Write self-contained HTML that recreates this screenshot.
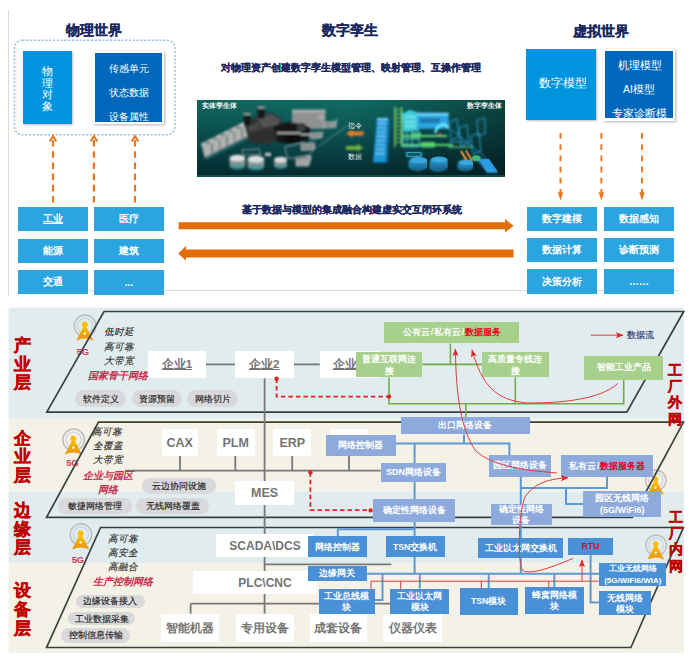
<!DOCTYPE html>
<html><head><meta charset="utf-8">
<style>
html,body{margin:0;padding:0;background:#fff;}
body{width:693px;height:661px;position:relative;overflow:hidden;font-family:"Liberation Sans",sans-serif;}
.a{position:absolute;box-sizing:border-box;}
.t{position:absolute;white-space:nowrap;line-height:1;}
.ttl{font-size:14.2px;font-weight:bold;color:#1a2860;-webkit-text-stroke:0.25px #1a2860;}
.sub{font-size:10.1px;font-weight:bold;color:#1a2860;-webkit-text-stroke:0.2px #1a2860;}
.cb{position:absolute;background:#2aa5e0;color:#fff;font-weight:bold;font-size:10px;display:flex;align-items:center;justify-content:center;line-height:1;}
.wb{position:absolute;box-sizing:border-box;background:#fff;color:#747474;font-weight:bold;font-size:11.5px;display:flex;align-items:center;justify-content:center;line-height:1;white-space:nowrap;}
.pl{position:absolute;box-sizing:border-box;background:#d9d9db;color:#222;-webkit-text-stroke:0.15px #222;padding-top:1px;font-size:9px;border-radius:9px;display:flex;align-items:center;justify-content:center;line-height:1;white-space:nowrap;}
.lay{position:absolute;color:#c00000;font-weight:900;-webkit-text-stroke:0.5px #c00000;font-size:17px;line-height:18.5px;}
.lay2{position:absolute;color:#c00000;font-weight:900;-webkit-text-stroke:0.4px #c00000;font-size:14px;line-height:16.4px;}
.it{position:absolute;font-style:italic;color:#1e1e1e;-webkit-text-stroke:0.1px #1e1e1e;font-size:9.6px;line-height:11px;white-space:nowrap;}
.red{color:#c9304e;-webkit-text-stroke:0;font-weight:bold;font-size:10px;}
.gb{position:absolute;box-sizing:border-box;background:#a6d08b;color:#fff;font-weight:bold;font-size:8.8px;display:flex;align-items:center;justify-content:center;line-height:1;white-space:nowrap;}
.pb{position:absolute;box-sizing:border-box;background:#8eaadc;color:#fff;font-size:9px;font-weight:bold;display:flex;align-items:center;justify-content:center;line-height:1;white-space:nowrap;}
.bb{position:absolute;box-sizing:border-box;background:#4a90d6;color:#fff;font-size:8.6px;font-weight:bold;display:flex;align-items:center;justify-content:center;line-height:1;white-space:nowrap;}
.sl{margin:0 0.8px;}
svg{position:absolute;left:0;top:0;}
</style></head><body>

<!-- ===== UPPER SECTION ===== -->
<div class="a" style="left:8px;top:10px;width:1px;height:286px;background:#dcdcdc"></div>
<div class="a" style="left:88px;top:290px;width:590px;height:1px;background:#dcdcdc"></div>

<div class="t ttl" style="left:66px;top:23px;">物理世界</div>
<div class="t ttl" style="left:322px;top:22.5px;">数字孪生</div>
<div class="t ttl" style="left:573px;top:23.5px;">虚拟世界</div>

<div class="t sub" style="left:221px;top:62.5px;">对物理资产创建数字孪生模型管理、映射管理、互操作管理</div>
<div class="t sub" style="left:242px;top:205.3px;">基于数据与模型的集成融合构建虚实交互闭环系统</div>

<!-- dashed rounded rect -->
<svg class="a" style="left:0;top:0" width="200" height="150"><rect x="14.5" y="40.3" width="160.5" height="94.5" rx="8" fill="none" stroke="#a0c0e4" stroke-width="1.5" stroke-dasharray="2.2 1.6"/></svg>

<!-- 物理对象 -->
<div class="a" style="left:23px;top:51px;width:49px;height:73px;background:#0094de;box-shadow:1px 1px 2px rgba(0,0,0,0.25);"></div>
<div class="t" style="left:42px;top:66px;font-size:11px;color:#fff;line-height:11.6px;width:12px;white-space:normal;">物理对象</div>

<!-- dark box -->
<div class="a" style="left:93px;top:51px;width:71px;height:73px;background:#fff;box-shadow:1px 1px 2.5px rgba(0,0,0,0.3);"></div>
<div class="a" style="left:95px;top:53px;width:67px;height:69px;background:#0068bc;overflow:hidden;">
  <div class="t" style="left:13.5px;top:10.5px;font-size:10.2px;color:#fff;">传感单元</div>
  <div class="t" style="left:13.5px;top:34.5px;font-size:10.2px;color:#fff;">状态数据</div>
  <div class="t" style="left:13.5px;top:58.5px;font-size:10.2px;color:#fff;">设备属性</div>
</div>

<!-- 数字模型 -->
<div class="a" style="left:526px;top:49px;width:70px;height:71px;background:#0094de;box-shadow:1px 1px 2px rgba(0,0,0,0.25);"></div>
<div class="t" style="left:539px;top:78px;font-size:11.5px;color:#fff;">数字模型</div>

<div class="a" style="left:603px;top:49px;width:72px;height:72px;background:#fff;box-shadow:1px 1px 2.5px rgba(0,0,0,0.3);"></div>
<div class="a" style="left:605px;top:51px;width:68px;height:67px;background:#0068bc;overflow:hidden;">
  <div class="t" style="left:13px;top:9px;font-size:10.5px;color:#fff;">机理模型</div>
  <div class="t" style="left:18px;top:33px;font-size:10.5px;color:#fff;">AI模型</div>
  <div class="t" style="left:7px;top:57px;font-size:10.5px;color:#fff;">专家诊断模</div>
</div>

<!-- left grid -->
<div class="cb" style="left:18px;top:207px;width:70px;height:24px;"><u>工业</u></div>
<div class="cb" style="left:94px;top:207px;width:70px;height:24px;">医疗</div>
<div class="cb" style="left:18px;top:239px;width:70px;height:24px;">能源</div>
<div class="cb" style="left:94px;top:239px;width:70px;height:24px;">建筑</div>
<div class="cb" style="left:18px;top:270px;width:70px;height:24px;">交通</div>
<div class="cb" style="left:94px;top:270px;width:70px;height:25px;">...</div>

<!-- right grid -->
<div class="cb" style="left:527px;top:207px;width:70px;height:24px;">数字建模</div>
<div class="cb" style="left:604px;top:207px;width:70px;height:24px;">数据感知</div>
<div class="cb" style="left:527px;top:238px;width:70px;height:24px;">数据计算</div>
<div class="cb" style="left:604px;top:238px;width:70px;height:24px;">诊断预测</div>
<div class="cb" style="left:527px;top:269px;width:70px;height:25px;">决策分析</div>
<div class="cb" style="left:604px;top:269px;width:70px;height:25px;">……</div>

<svg width="693" height="300" viewBox="0 0 693 300">
  <g stroke="#e87722" stroke-width="2.2" stroke-dasharray="6.6 4.6" fill="none">
    <line x1="53" y1="202.6" x2="53" y2="136"/>
    <line x1="93.9" y1="202.6" x2="93.9" y2="136"/>
    <line x1="135" y1="202.6" x2="135" y2="136"/>
  </g>
  <g stroke="#e87722" stroke-width="2" fill="none" stroke-linejoin="miter">
    <path d="M49.7 141.5 L53 136.2 L56.4 141.5"/>
    <path d="M90.6 141.5 L93.9 136.2 L97.3 141.5"/>
    <path d="M131.7 141.5 L135 136.2 L138.4 141.5"/>
  </g>
  <g stroke="#e87722" stroke-width="1.9" stroke-dasharray="5.8 5.4" fill="none">
    <line x1="560.5" y1="133" x2="560.5" y2="194"/>
    <line x1="601.4" y1="133" x2="601.4" y2="194"/>
    <line x1="642" y1="133" x2="642" y2="194"/>
  </g>
  <g fill="#e87722">
    <path d="M557.8 192.3 L560.5 200.5 L563.2 192.3Z"/>
    <path d="M598.7 192.3 L601.4 200.5 L604.1 192.3Z"/>
    <path d="M639.3 192.3 L642 200.5 L644.7 192.3Z"/>
  </g>
  <g fill="#e36c09">
    <path d="M178.6 222.3 H505 V219 L513.5 225.8 L505 232.6 V229.2 H178.6Z"/>
    <path d="M178.2 253.4 L186 246 V249.5 H513.5 V257.4 H186 V260.8Z"/>
  </g>
</svg>

<!-- twin image -->
<svg class="a" style="left:197px;top:100px;" width="308" height="77" viewBox="0 0 308 77">
  <defs>
    <linearGradient id="tgv" x1="0" y1="0" x2="0" y2="1">
      <stop offset="0" stop-color="#106c62"/>
      <stop offset="0.35" stop-color="#0c5654"/>
      <stop offset="0.75" stop-color="#083c40"/>
      <stop offset="1" stop-color="#062a2e"/>
    </linearGradient>
    <linearGradient id="tgh" x1="0" y1="0" x2="1" y2="0">
      <stop offset="0" stop-color="#000" stop-opacity="0.05"/>
      <stop offset="0.5" stop-color="#000" stop-opacity="0"/>
      <stop offset="1" stop-color="#000" stop-opacity="0.35"/>
    </linearGradient>
    <linearGradient id="tk" x1="0" y1="0" x2="0" y2="1"><stop offset="0" stop-color="#a9acac"/><stop offset="0.5" stop-color="#7f9696"/><stop offset="1" stop-color="#1d8a88"/></linearGradient>
    <linearGradient id="ctk" x1="0" y1="0" x2="0" y2="1"><stop offset="0" stop-color="#2a9ad0"/><stop offset="1" stop-color="#16608e"/></linearGradient>
    <pattern id="mesh" width="2" height="2" patternUnits="userSpaceOnUse"><rect width="2" height="2" fill="#1c1e1e"/><rect width="1" height="1" fill="#505353"/></pattern>
    <filter id="bl" filterUnits="userSpaceOnUse" x="0" y="0" width="308" height="77"><feGaussianBlur stdDeviation="0.8"/></filter>
  </defs>
  <rect width="308" height="77" fill="url(#tgv)"/>
  <rect width="308" height="77" fill="url(#tgh)"/>
  <rect y="75" width="308" height="2" fill="#1a6a6a" opacity="0.6"/>
  <g filter="url(#bl)">
    <!-- cooling bar -->
    <path d="M5 46 L48 24.5 L51 36 L7.5 57.5 Z" fill="#b0b2b2"/>
    <path d="M3.5 44 L46 22.5 L48 24.5 L5 46 Z" fill="#cfd1d1"/>
    <g fill="#8a8d8d"><ellipse cx="11" cy="42.4" rx="3.4" ry="1.7"/><ellipse cx="18.5" cy="38.6" rx="3.4" ry="1.7"/><ellipse cx="26" cy="34.8" rx="3.4" ry="1.7"/><ellipse cx="33.5" cy="31" rx="3.4" ry="1.7"/><ellipse cx="41" cy="27.2" rx="3.4" ry="1.7"/></g>
    <g stroke="#3a3c3c" stroke-width="0.9"><path d="M15 44 V53 M22.5 40.2 V49.3 M30 36.4 V45.5 M37.5 32.6 V41.7 M45 28.8 V38"/></g>
    <path d="M7.5 57.5 L51 36 L52 38.5 L9 60 Z" fill="#2a7070" opacity="0.8"/>
    <!-- dark machine -->
    <path d="M47 24 L60 16 L74 12 L84 18 L88 30 L84 40 L66 45 L52 42 Z" fill="url(#mesh)"/>
    <path d="M60 18 L74 14 L84 20 L80 26 L66 28 Z" fill="#6a6d6d" opacity="0.6"/>
    <path d="M50 26 L62 22 L64 30 L52 32 Z" fill="#5d6060" opacity="0.5"/>
    <rect x="46.5" y="12" width="7" height="14" rx="2" fill="#151717"/><ellipse cx="50" cy="14" rx="4" ry="1.4" fill="#8a9a9a"/>
    <rect x="60.8" y="5.5" width="7" height="13" rx="2" fill="#151717"/><ellipse cx="64.3" cy="7.5" rx="4" ry="1.4" fill="#8a9a9a"/>
    <!-- gray box -->
    <rect x="95" y="9.8" width="33.5" height="19" fill="#909292"/>
    <rect x="95" y="9.8" width="33.5" height="2.5" fill="#b2b4b4"/>
    <circle cx="124.5" cy="17.3" r="2.2" fill="none" stroke="#e0e0e0" stroke-width="0.7"/>
    <!-- black machinery -->
    <path d="M76 26 L92 22 L106 24 L114 28 L112 40 L96 44 L80 42 Z" fill="#121414"/>
    <rect x="100" y="23" width="8" height="8" fill="#3a3c3c"/>
    <path d="M80 33 L104 33 M104 34.6 L120 34.6" stroke="#c8cccc" stroke-width="1.3"/>
    <path d="M87 36 L103 36 L103 43 L87 43Z" fill="#0d0f0f"/>
    <!-- platforms -->
    <path d="M88 47 L106 43 L119 47 L110 58 L90 58 Z" fill="none" stroke="#a8b8b8" stroke-width="0.8"/>
    <path d="M98.5 57 L112 54.5 L115 57 L112 66.6 L98.5 66.6 Z" fill="#a0a4a4"/>
    <path d="M100 58 L110 57" stroke="#333" stroke-width="1"/>
    <path d="M127.4 22 L140 21 L139 27.7 L127.4 28 Z M113 33 L126 32 L125 38 L113 38.5Z M104 44 L118 43 L117 50 L104 50.5Z" fill="#8a8f8f" stroke="#c4c8c8" stroke-width="0.5"/>
    <path d="M110 45 L123 36 M134 26 L141 18 M122 46 L150 26" stroke="#8fd0d0" stroke-width="0.6"/>
    <rect x="68" y="52.7" width="6" height="3.5" fill="#b8bcbc"/>
    <!-- tanks -->
    <path d="M32.6 57.9 V67 Q40.4 72.5 48.2 67 V57.9 Z" fill="url(#tk)"/><ellipse cx="40.4" cy="57.9" rx="7.8" ry="3.2" fill="#e0e2e2"/>
    <path d="M50.6 59.1 V68 Q58.9 73 67.2 68 V59.1 Z" fill="url(#tk)"/><ellipse cx="58.9" cy="59.1" rx="8.3" ry="3.4" fill="#dcdede"/>
    <path d="M77.1 59.7 V67 Q83.5 71 89.9 67 V59.7 Z" fill="url(#tk)"/><ellipse cx="83.5" cy="59.7" rx="6.4" ry="3" fill="#d8dada"/>
    <path d="M45 50 L62 49 L64 54.5 L46 55 Z" fill="none" stroke="#b8c8c8" stroke-width="0.7"/>
    <!-- middle arrows -->
    <path d="M149 33.4 L155.5 29.5 V31.4 H166.5 V35.4 H155.5 V37.4 Z" fill="#f07c2a"/>
    <path d="M166.5 47.8 L160 44 V45.9 H149 V49.7 H160 V51.6 Z" fill="#74b23e"/>
    <!-- blue column -->
    <path d="M180 18 L191 18 L188.5 62.5 L176 62.5 Z" fill="#1b98d6"/>
    <path d="M191 18 L193 20 L190.5 63 L188.5 62.5 Z" fill="#1270a8"/>
    <path d="M180 18 L191 18 L190.6 20.5 L179.8 20.5Z" fill="#6ad0f8"/>
    <g stroke="#9ae0ff" stroke-width="0.9"><path d="M180.5 23.5 H189.5 M180.2 27.8 H189.2 M179.9 32.1 H189 M179.6 36.4 H188.8 M179.3 40.7 H188.5 M179 45 H188.3 M178.7 49.3 H188 M178.4 53.6 H187.8"/></g>
    <!-- green ladder -->
    <path d="M198 7 V47 M204.6 7 V47" stroke="#96ea6a" stroke-width="1.2"/>
    <g stroke="#96ea6a" stroke-width="0.9"><path d="M198 10 H204.6 M198 14 H204.6 M198 18 H204.6 M198 22 H204.6 M198 26 H204.6 M198 30 H204.6 M198 34 H204.6 M198 38 H204.6 M198 42 H204.6"/></g>
    <!-- cyan structure -->
    <path d="M205 14 L212 10 L220 12 L222 30 L206 31 Z" fill="#48e4f4" opacity="0.85"/>
    <path d="M208 17 H219 M208 22 H219 M208 26 H219" stroke="#c8ffff" stroke-width="0.8"/>
    <path d="M206 31 H222 V47 H206 Z M210 31 V47 M215 31 V47 M206 39 H222" fill="none" stroke="#5ae0f4" stroke-width="0.9"/>
    <rect x="220" y="12.8" width="31.6" height="16" fill="#2aa6e2"/>
    <rect x="220" y="12.8" width="31.6" height="2.8" fill="#6ad0f8"/>
    <rect x="223" y="18" width="20" height="5" fill="#1a78b0"/>
    <path d="M204 36 L250 36 M204 45 L256 45" stroke="#62d878" stroke-width="2"/>
    <rect x="214" y="33" width="10" height="5" fill="#58d070"/>
    <rect x="224" y="42" width="14" height="5.5" fill="#58d070"/>
    <path d="M238.4 33 C 240 24, 249 22, 251 28" stroke="#70f4ff" stroke-width="2.4" fill="none"/>
    <circle cx="243" cy="35" r="1.6" fill="#f08060"/>
    <path d="M251 47 H276" stroke="#68d888" stroke-width="1.2"/>
    <g fill="none" stroke="#2f9ed6" stroke-width="1">
      <path d="M252 22 L260 19 L262 37 L254 40 Z"/><path d="M262 28 L270 25 L272 43 L264 46 Z"/><path d="M274 36 L282 33 L284 51 L276 54 Z"/><path d="M280 20 L288 18 L288 34 L281 36 Z"/>
      <path d="M255 30 L287 56"/><path d="M252 42 H270"/>
    </g>
    <path d="M264 51 L270 61 M269 50.5 L275 61" stroke="#d88a3a" stroke-width="1.5"/>
    <ellipse cx="279.3" cy="58.2" rx="4" ry="2.6" fill="#42b878"/>
    <path d="M280 59 L290 58.7 L301 72.8 L290 72.8 Z" fill="#2a9ee0"/>
    <rect x="209.8" y="52.7" width="14.4" height="3.5" fill="none" stroke="#3ab8e0" stroke-width="0.8"/>
    <path d="M212.4 61 V67.5 Q220.2 72.5 228 67.5 V61 Z" fill="#1876a8" stroke="#40b8ec" stroke-width="0.8"/><ellipse cx="220.2" cy="61" rx="7.8" ry="3" fill="#1e8ac0" stroke="#58c8f4" stroke-width="0.8"/>
    <path d="M233.4 62 V68.5 Q241.2 73 249 68.5 V62 Z" fill="#1876a8" stroke="#40b8ec" stroke-width="0.8"/><ellipse cx="241.2" cy="62" rx="7.8" ry="3" fill="#1e8ac0" stroke="#58c8f4" stroke-width="0.8"/>
    <path d="M261.5 63 V68.5 Q267.9 72 274.3 68.5 V63 Z" fill="#1876a8" stroke="#40b8ec" stroke-width="0.8"/><ellipse cx="267.9" cy="63" rx="6.4" ry="2.6" fill="#1e8ac0" stroke="#58c8f4" stroke-width="0.8"/>
  </g>
    <path d="M264 51 L270 61 M269 50.5 L275 61" stroke="#d88a3a" stroke-width="1.5"/>
    <ellipse cx="279.3" cy="58.2" rx="4" ry="2.6" fill="#42b878"/>
    <path d="M283.4 59.7 L292 59 L300.7 71.8 L290 71.8 Z" fill="#2a9ee0"/>
    <rect x="209.8" y="52.7" width="14.4" height="3.5" fill="none" stroke="#3ab8e0" stroke-width="0.8"/>
    <path d="M213.8 60.2 V68 Q221.9 72.5 230 68 V60.2 Z" fill="url(#ctk)"/><ellipse cx="221.9" cy="60.2" rx="8.1" ry="3" fill="#3aa8e0"/>
    <path d="M233.8 59.5 V68 Q242.1 72.5 250.5 68 V59.5 Z" fill="url(#ctk)"/><ellipse cx="242.1" cy="59.5" rx="8.3" ry="3" fill="#3aa8e0"/>
    <path d="M262.6 62.5 V68.5 Q269.3 72 276 68.5 V62.5 Z" fill="url(#ctk)"/><ellipse cx="269.3" cy="62.5" rx="6.7" ry="2.6" fill="#3aa8e0"/>
  </g>
  <g font-family="Liberation Sans, sans-serif" font-weight="bold" fill="#f4f4f4">
    <text x="4.6" y="8.2" font-size="7.2">实体孪生体</text>
    <text x="269.6" y="8.2" font-size="7.2">数字孪生体</text>
    <text x="151.3" y="27.9" font-size="7" font-weight="normal">指令</text>
    <text x="151.3" y="58.6" font-size="7" font-weight="normal">数据</text>
  </g>
</svg>


<!-- ===== LOWER SECTION ===== -->
<svg width="693" height="661" viewBox="0 0 693 661">
  <defs>
    <linearGradient id="tw" x1="0" y1="0" x2="0" y2="1"><stop offset="0" stop-color="#fcc000"/><stop offset="1" stop-color="#ea9208"/></linearGradient>
    <g id="ic">
      <circle cx="0.3" cy="1.2" r="10.8" fill="none" stroke="#bdbdbd" stroke-width="1.5"/>
      <circle cx="0.3" cy="1.2" r="7.6" fill="none" stroke="#cfd2dc" stroke-width="1.3"/>
      <circle cx="0" cy="0" r="2.9" fill="#fbbd00"/>
      <path d="M-1.2 1.5 H1.2 L8.6 16.2 Q0 11.8 -8.6 16.2 Z" fill="url(#tw)"/>
      <circle cx="0" cy="9" r="1.2" fill="#fff"/>
    </g>
  </defs>
  <rect x="8.6" y="307.7" width="675.4" height="110.8" fill="#e1ecef"/>
  <rect x="8.6" y="418.5" width="675.4" height="73.2" fill="#f4f1e6"/>
  <rect x="8.6" y="491.7" width="675.4" height="71.5" fill="#e1ecef"/>
  <rect x="8.6" y="563.2" width="675.4" height="89.6" fill="#f4f1e6"/>
  <use href="#ic" transform="translate(84.8,324.6)"/>
  <use href="#ic" transform="translate(73.3,438.6)"/>
  <use href="#ic" transform="translate(80.6,533.4)"/>
  <use href="#ic" transform="translate(655.5,479.2) scale(0.95)"/>
  <use href="#ic" transform="translate(655.8,544.1) scale(0.95)"/>
  <g font-family="Liberation Sans, sans-serif" font-weight="bold" font-size="9.4" fill="#d23a55" text-anchor="middle" letter-spacing="-0.3">
    <text x="82.8" y="355.3">5G</text>
    <text x="72.3" y="466.4">5G</text>
    <text x="77.8" y="562.8">5G</text>
  </g>
  <g fill="none" stroke="#3a4040" stroke-width="1.7">
    <path d="M104 311.5 L683.7 311.5 L626.8 412.2 L46.8 412.2 Z"/>
    <path d="M98.5 422.2 L683.5 422.2 L632.2 517.4 L46.5 517.4 Z"/>
    <path d="M100.6 527.5 L683.4 527.5 L630.9 647.5 L46.6 647.5 Z"/>
  </g>
  <g stroke="#787878" stroke-width="1.8" fill="none">
    <line x1="206" y1="364.4" x2="235" y2="364.4"/>
    <line x1="293.5" y1="364.4" x2="319.7" y2="364.4"/>
    <line x1="125" y1="470.6" x2="380.7" y2="470.6"/>
    <line x1="180" y1="455.6" x2="180" y2="470.6"/>
    <line x1="235.3" y1="455.6" x2="235.3" y2="470.6"/>
    <line x1="292.2" y1="455.6" x2="292.2" y2="470.6"/>
    <line x1="349" y1="456" x2="349" y2="470.6"/>
    <line x1="264.2" y1="564.3" x2="391.3" y2="564.3"/>
    <line x1="190.6" y1="603.6" x2="319.2" y2="603.6"/>
    <line x1="374.6" y1="603.6" x2="390" y2="603.6"/>
    <line x1="190.6" y1="603.6" x2="190.6" y2="613.7"/>
    <line x1="264.6" y1="378.4" x2="264.6" y2="613.7"/>
  </g>
</svg>

<!-- white boxes -->
<div class="wb" style="left:148px;top:350.6px;width:58px;height:27.8px;padding-top:1.5px;"><u>企业1</u></div>
<div class="wb" style="left:235px;top:350.6px;width:58.5px;height:27.8px;padding-top:1.5px;"><u>企业2</u></div>
<div class="wb" style="left:319.7px;top:350.6px;width:59px;height:27.8px;justify-content:flex-start;padding-left:13px;padding-top:1.5px;"><u>企业3</u></div>
<div class="wb" style="left:161.7px;top:428.8px;width:36.1px;height:26.8px;font-size:12.5px;padding-top:1.5px;">CAX</div>
<div class="wb" style="left:216.6px;top:428.8px;width:38.1px;height:26.8px;font-size:12.5px;padding-top:1.5px;">PLM</div>
<div class="wb" style="left:273.4px;top:428.8px;width:37.8px;height:26.8px;font-size:12.5px;padding-top:1.5px;">ERP</div>
<div class="wb" style="left:329.6px;top:428.8px;width:38.1px;height:26.8px;"></div>
<div class="wb" style="left:235.3px;top:480.7px;width:58.7px;height:24.5px;font-size:12.5px;">MES</div>
<div class="wb" style="left:215.8px;top:534.2px;width:97.2px;height:23.3px;justify-content:flex-start;padding-left:13.5px;padding-top:1px;font-size:12px;">SCADA\DCS</div>
<div class="wb" style="left:193.3px;top:571.2px;width:123.7px;height:22.8px;justify-content:flex-start;padding-left:45px;padding-top:1px;font-size:12px;">PLC\CNC</div>
<div class="wb" style="left:161px;top:613.7px;width:57.5px;height:28px;padding-top:3px;">智能机器</div>
<div class="wb" style="left:235.5px;top:613.7px;width:58.5px;height:28px;padding-top:3px;">专用设备</div>
<div class="wb" style="left:309.6px;top:613.7px;width:57.6px;height:28px;padding-top:3px;">成套设备</div>
<div class="wb" style="left:383px;top:613.7px;width:59px;height:28px;padding-top:3px;">仪器仪表</div>

<!-- pills -->
<div class="pl" style="left:75px;top:390px;width:51px;height:17px;">软件定义</div>
<div class="pl" style="left:131.7px;top:390px;width:50.1px;height:17px;">资源预留</div>
<div class="pl" style="left:187px;top:390px;width:51px;height:17px;">网络切片</div>
<div class="pl" style="left:142px;top:477.8px;width:74px;height:16px;">云边协同设施</div>
<div class="pl" style="left:58px;top:497.6px;width:73.6px;height:16.7px;">敏捷网络管理</div>
<div class="pl" style="left:135.8px;top:498px;width:73.6px;height:16px;">无线网络覆盖</div>
<div class="pl" style="left:75.6px;top:594.7px;width:69.2px;height:13.5px;">边缘设备接入</div>
<div class="pl" style="left:68.2px;top:612px;width:67.2px;height:13.4px;">工业数据采集</div>
<div class="pl" style="left:60.8px;top:628.3px;width:69.7px;height:14.3px;">控制信息传输</div>

<!-- layer labels -->
<div class="lay" style="left:13.5px;top:337px;">产<br>业<br>层</div>
<div class="lay" style="left:13.5px;top:429.8px;">企<br>业<br>层</div>
<div class="lay" style="left:13.5px;top:502px;">边<br>缘<br>层</div>
<div class="lay" style="left:13.5px;top:580.5px;line-height:19px;">设<br>备<br>层</div>
<div class="lay2" style="left:667.5px;top:361.5px;">工<br>厂<br>外<br>网</div>
<div class="lay2" style="left:668.5px;top:508.5px;">工<br>厂<br>内<br>网</div>

<!-- italic features -->
<div class="it" style="left:104px;top:326px;">低时延</div>
<div class="it" style="left:104px;top:340.5px;">高可靠</div>
<div class="it" style="left:104px;top:354.5px;">大带宽</div>
<div class="it red" style="left:88px;top:370px;">国家骨干网络</div>
<div class="it" style="left:92px;top:426px;">高可靠</div>
<div class="it" style="left:93px;top:440px;">全覆盖</div>
<div class="it" style="left:93px;top:454px;">大带宽</div>
<div class="it red" style="left:83px;top:469.5px;">企业与园区</div>
<div class="it red" style="left:98px;top:483.5px;">网络</div>
<div class="it" style="left:108px;top:532.5px;">高可靠</div>
<div class="it" style="left:108px;top:546.5px;">高安全</div>
<div class="it" style="left:108px;top:560.5px;">高融合</div>
<div class="it red" style="left:93px;top:575.5px;">生产控制网络</div>


<!-- colored connector lines -->
<svg width="693" height="661" viewBox="0 0 693 661">
  <g stroke="#5b9bd5" stroke-width="2" fill="none">
    <path d="M464 434.5 V443.5"/>
    <path d="M396 443.5 H509.4 V455.4"/>
    <path d="M414.6 443.5 V573.8"/>
    <path d="M337.8 536.4 V529.3 H414.6"/>
    <path d="M367.2 573.8 H599.3"/>
    <path d="M382.5 573.8 V600 H374.6"/>
    <path d="M419.8 573.8 V588.5"/>
    <path d="M488.7 573.9 V588.4"/>
    <path d="M554.3 573.9 V587.4"/>
    <path d="M590.6 555.2 V602.5 H599.3"/>
    <path d="M607 476.7 V488 H520.8"/>
    <path d="M566 488 V504 H583"/>
    <path d="M520.8 476.6 V573.9"/>
  </g>
  <g stroke="#70ad47" stroke-width="1.6" fill="none">
    <path d="M450.4 343.5 V364.4"/>
    <path d="M422.3 364.4 H482"/>
    <path d="M389 377.4 V403.8 H623.7 V379.6"/>
    <path d="M515.3 377.4 V403.8"/>
    <path d="M465.8 403.8 V417.4"/>
  </g>
</svg>

<!-- green boxes -->
<div class="gb" style="left:384px;top:321.6px;width:134.7px;height:21.9px;font-size:8.7px;padding-left:1px;">公有云<span class="sl">/</span>私有云<span class="sl">/</span><span style="color:#e8001c;font-weight:bold">数据服务</span></div>
<div class="gb" style="left:355.8px;top:352px;width:66.5px;height:25.4px;line-height:12px;white-space:normal;text-align:center;">普通互联网连<br>接</div>
<div class="gb" style="left:482px;top:352px;width:66.6px;height:25.4px;line-height:12px;white-space:normal;text-align:center;">高质量专线连<br>接</div>
<div class="gb" style="left:583.6px;top:355.5px;width:79.9px;height:24.1px;">智能工业产品</div>

<!-- periwinkle boxes -->
<div class="pb" style="left:401px;top:417.4px;width:128.5px;height:17.1px;">出口网络设备</div>
<div class="pb" style="left:325.9px;top:434.5px;width:70.1px;height:21.7px;">网络控制器</div>
<div class="pb" style="left:380.7px;top:463.4px;width:65.5px;height:18.2px;">SDN网络设备</div>
<div class="pb" style="left:373px;top:499px;width:82px;height:23px;">确定性网络设备</div>
<div class="pb" style="left:489.3px;top:455.4px;width:62.2px;height:21.2px;">园区网络设备</div>
<div class="pb" style="left:561.2px;top:455px;width:92.2px;height:21.7px;font-size:8.6px;">私有云<span class="sl">/</span><span style="color:#e8001c;font-weight:bold">数据服务器</span></div>
<div class="pb" style="left:583px;top:490.8px;width:78.4px;height:26.4px;line-height:12px;white-space:normal;text-align:center;">园区无线网络<br>(5G/WiFi6)</div>
<div class="pb" style="left:491px;top:504px;width:60.5px;height:20.5px;line-height:11.5px;padding-top:2px;white-space:normal;text-align:center;">确定性网络<br>设备</div>

<!-- blue boxes -->
<div class="bb" style="left:307.7px;top:536.4px;width:59.5px;height:21.1px;">网络控制器</div>
<div class="bb" style="left:385.5px;top:536.4px;width:59px;height:21.1px;">TSN交换机</div>
<div class="bb" style="left:478px;top:537.5px;width:85.3px;height:20.9px;">工业以太网交换机</div>
<div class="bb" style="left:568.1px;top:538.2px;width:45.1px;height:17px;color:#e8001c;font-weight:bold;">RTU</div>
<div class="bb" style="left:307.7px;top:565.7px;width:59.5px;height:15.7px;">边缘网关</div>
<div class="bb" style="left:319.2px;top:588.5px;width:55.4px;height:25.2px;line-height:11px;white-space:normal;text-align:center;padding-top:1.5px;">工业总线模<br>块</div>
<div class="bb" style="left:390px;top:588.5px;width:59.4px;height:25.2px;line-height:11px;white-space:normal;text-align:center;padding-top:1.5px;">工业以太网<br>模块</div>
<div class="bb" style="left:459.6px;top:588.4px;width:58px;height:26.3px;">TSN模块</div>
<div class="bb" style="left:524.7px;top:587.4px;width:59.5px;height:26.6px;line-height:11px;white-space:normal;text-align:center;padding-top:1.5px;">蜂窝网络模<br>块</div>
<div class="bb" style="left:599.3px;top:562.6px;width:67px;height:23.8px;line-height:12px;white-space:normal;text-align:center;font-size:8px;padding-top:1px;">工业无线网络<br>(5G/WiFi6/WIA)</div>
<div class="bb" style="left:599.3px;top:591.3px;width:51.5px;height:23.4px;line-height:11px;white-space:normal;text-align:center;padding-top:1.5px;">无线网络<br>模块</div>

<!-- overlay lines -->
<svg width="693" height="661" viewBox="0 0 693 661">
  <defs>
    <marker id="ah" markerWidth="8" markerHeight="7" refX="7" refY="3.5" orient="auto" markerUnits="userSpaceOnUse">
      <path d="M0 0.5 L7.5 3.5 L0 6.5 L1.5 3.5Z" fill="#e02424"/>
    </marker>
  </defs>
  <g stroke="#e02424" stroke-width="1.8" fill="none" stroke-dasharray="4.5 3">
    <path d="M276.6 378.4 V396.6 H389"/>
    <path d="M310.4 472.3 V510.2 H370.6"/>
  </g>
  <g fill="#e02424">
    <circle cx="276.6" cy="378.8" r="2.2"/>
    <circle cx="389" cy="396.6" r="2.2"/>
    <circle cx="310.4" cy="472.3" r="2.2"/>
    <circle cx="370.6" cy="510.4" r="2.2"/>
  </g>
  <g stroke="#e23a3a" stroke-width="1" fill="none">
    <path d="M618 383.3 C 600 400, 560 403, 527 403 C 495 400, 482 385, 472 350" marker-end="url(#ah)"/>
    <path d="M557 473 C 520 470, 490 465, 475 450 C 462 430, 456 400, 455.4 349" marker-end="url(#ah)"/>
    <path d="M573 558.4 C 555 566, 530 576, 522 570 C 518 560, 518 515, 525 497 C 535 482, 550 479, 568 477.7" marker-end="url(#ah)"/>
    <path d="M371 581.2 H598.7"/>
    <path d="M371 581.2 V589"/>
    <path d="M400.6 581.2 V589"/>
    <path d="M481.3 581.2 V588.5"/>
    <path d="M548.8 581.2 V587.5"/>
    <path d="M582 581.2 V560" marker-end="url(#ah)"/>
    <path d="M590.9 335.2 H623" marker-end="url(#ah)"/>
  </g>
</svg>
<div class="t" style="left:626.8px;top:330.5px;font-size:9px;color:#1f3070;-webkit-text-stroke:0.15px #1f3070;">数据流</div>

</body></html>
